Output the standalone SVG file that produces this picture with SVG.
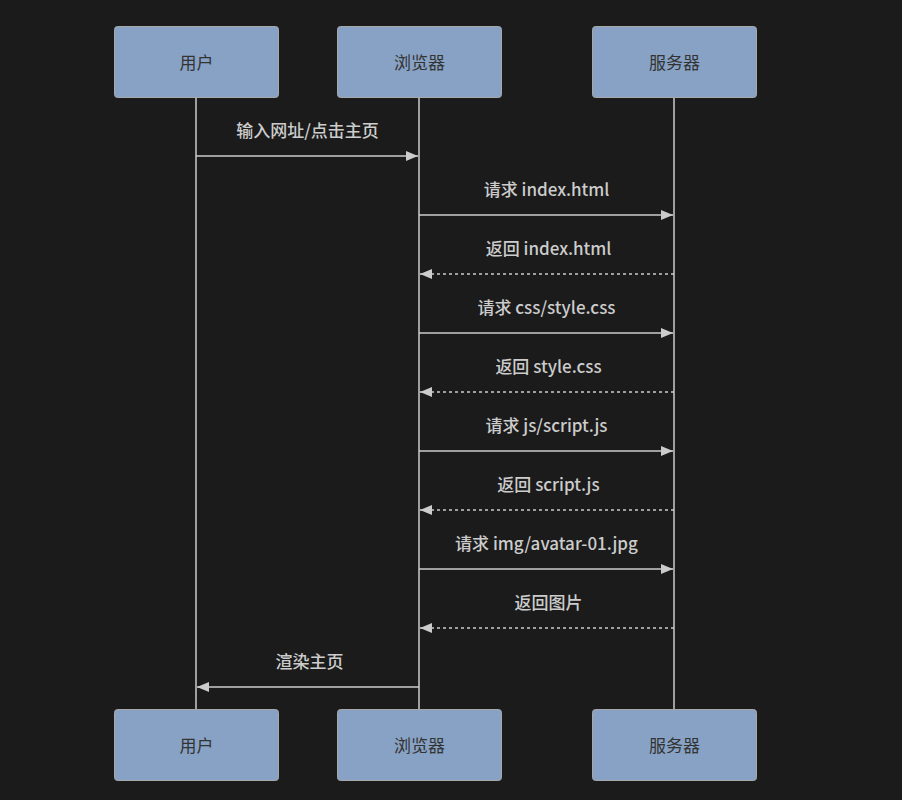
<svg xmlns="http://www.w3.org/2000/svg" width="902" height="800" viewBox="0 0 902 800">
<style>
.bg{fill:#1b1b1b}
.actor rect{fill:#87a2c4;stroke:#a8a8a8;stroke-width:1}
.actor text{fill:#333;font-family:"Noto Sans CJK SC","Liberation Sans",sans-serif;font-size:17px;text-anchor:middle;dominant-baseline:central}
.life{stroke:#cccccc;stroke-width:1.5}
.msg{stroke:#cccccc;stroke-width:1.5;fill:none}
.dash{stroke-dasharray:3,3}
.lbl{fill:#cccccc;font-family:"Noto Sans CJK SC","Liberation Sans",sans-serif;font-size:17px;font-weight:500;text-anchor:middle;dominant-baseline:central}
</style>
<defs>
<marker id="ah" viewBox="0 0 12 10" refX="12" refY="5" markerWidth="12" markerHeight="10" markerUnits="userSpaceOnUse" orient="auto">
<path d="M0,0 L12,5 L0,10 z" fill="#cccccc"/>
</marker>
</defs>
<rect class="bg" x="0" y="0" width="902" height="800"/>
<g id="lifelines">
<line class="life" x1="196" y1="97" x2="196" y2="710"/>
<line class="life" x1="419" y1="97" x2="419" y2="710"/>
<line class="life" x1="674" y1="97" x2="674" y2="710"/>
</g>
<g id="actor-user-top" class="actor"><rect x="114.5" y="26.5" width="164" height="71" rx="3"/><text x="196.5" y="61">用户</text></g>
<g id="actor-browser-top" class="actor"><rect x="337.5" y="26.5" width="164" height="71" rx="3"/><text x="419.5" y="61">浏览器</text></g>
<g id="actor-server-top" class="actor"><rect x="592.5" y="26.5" width="164" height="71" rx="3"/><text x="674.5" y="61">服务器</text></g>
<g id="actor-user-bottom" class="actor"><rect x="114.5" y="709.5" width="164" height="71" rx="3"/><text x="196.5" y="744">用户</text></g>
<g id="actor-browser-bottom" class="actor"><rect x="337.5" y="709.5" width="164" height="71" rx="3"/><text x="419.5" y="744">浏览器</text></g>
<g id="actor-server-bottom" class="actor"><rect x="592.5" y="709.5" width="164" height="71" rx="3"/><text x="674.5" y="744">服务器</text></g>
<g id="connectors">
<line class="msg" x1="196" y1="156" x2="418" y2="156" marker-end="url(#ah)"/>
<text class="lbl" x="307.5" y="129">输入网址/点击主页</text>
<line class="msg" x1="419" y1="215" x2="673" y2="215" marker-end="url(#ah)"/>
<text class="lbl" x="546.5" y="188">请求 index.html</text>
<line class="msg dash" x1="674" y1="274" x2="420" y2="274" marker-end="url(#ah)"/>
<text class="lbl" x="548.5" y="247">返回 index.html</text>
<line class="msg" x1="419" y1="333" x2="673" y2="333" marker-end="url(#ah)"/>
<text class="lbl" x="546.5" y="306">请求 css/style.css</text>
<line class="msg dash" x1="674" y1="392" x2="420" y2="392" marker-end="url(#ah)"/>
<text class="lbl" x="548.5" y="365">返回 style.css</text>
<line class="msg" x1="419" y1="451" x2="673" y2="451" marker-end="url(#ah)"/>
<text class="lbl" x="546.5" y="424">请求 js/script.js</text>
<line class="msg dash" x1="674" y1="510" x2="420" y2="510" marker-end="url(#ah)"/>
<text class="lbl" x="548.5" y="483">返回 script.js</text>
<line class="msg" x1="419" y1="569" x2="673" y2="569" marker-end="url(#ah)"/>
<text class="lbl" x="546.5" y="542">请求 img/avatar-01.jpg</text>
<line class="msg dash" x1="674" y1="628" x2="420" y2="628" marker-end="url(#ah)"/>
<text class="lbl" x="548.5" y="601">返回图片</text>
<line class="msg" x1="419" y1="687" x2="197" y2="687" marker-end="url(#ah)"/>
<text class="lbl" x="309.5" y="660">渲染主页</text>
</g>
</svg>
